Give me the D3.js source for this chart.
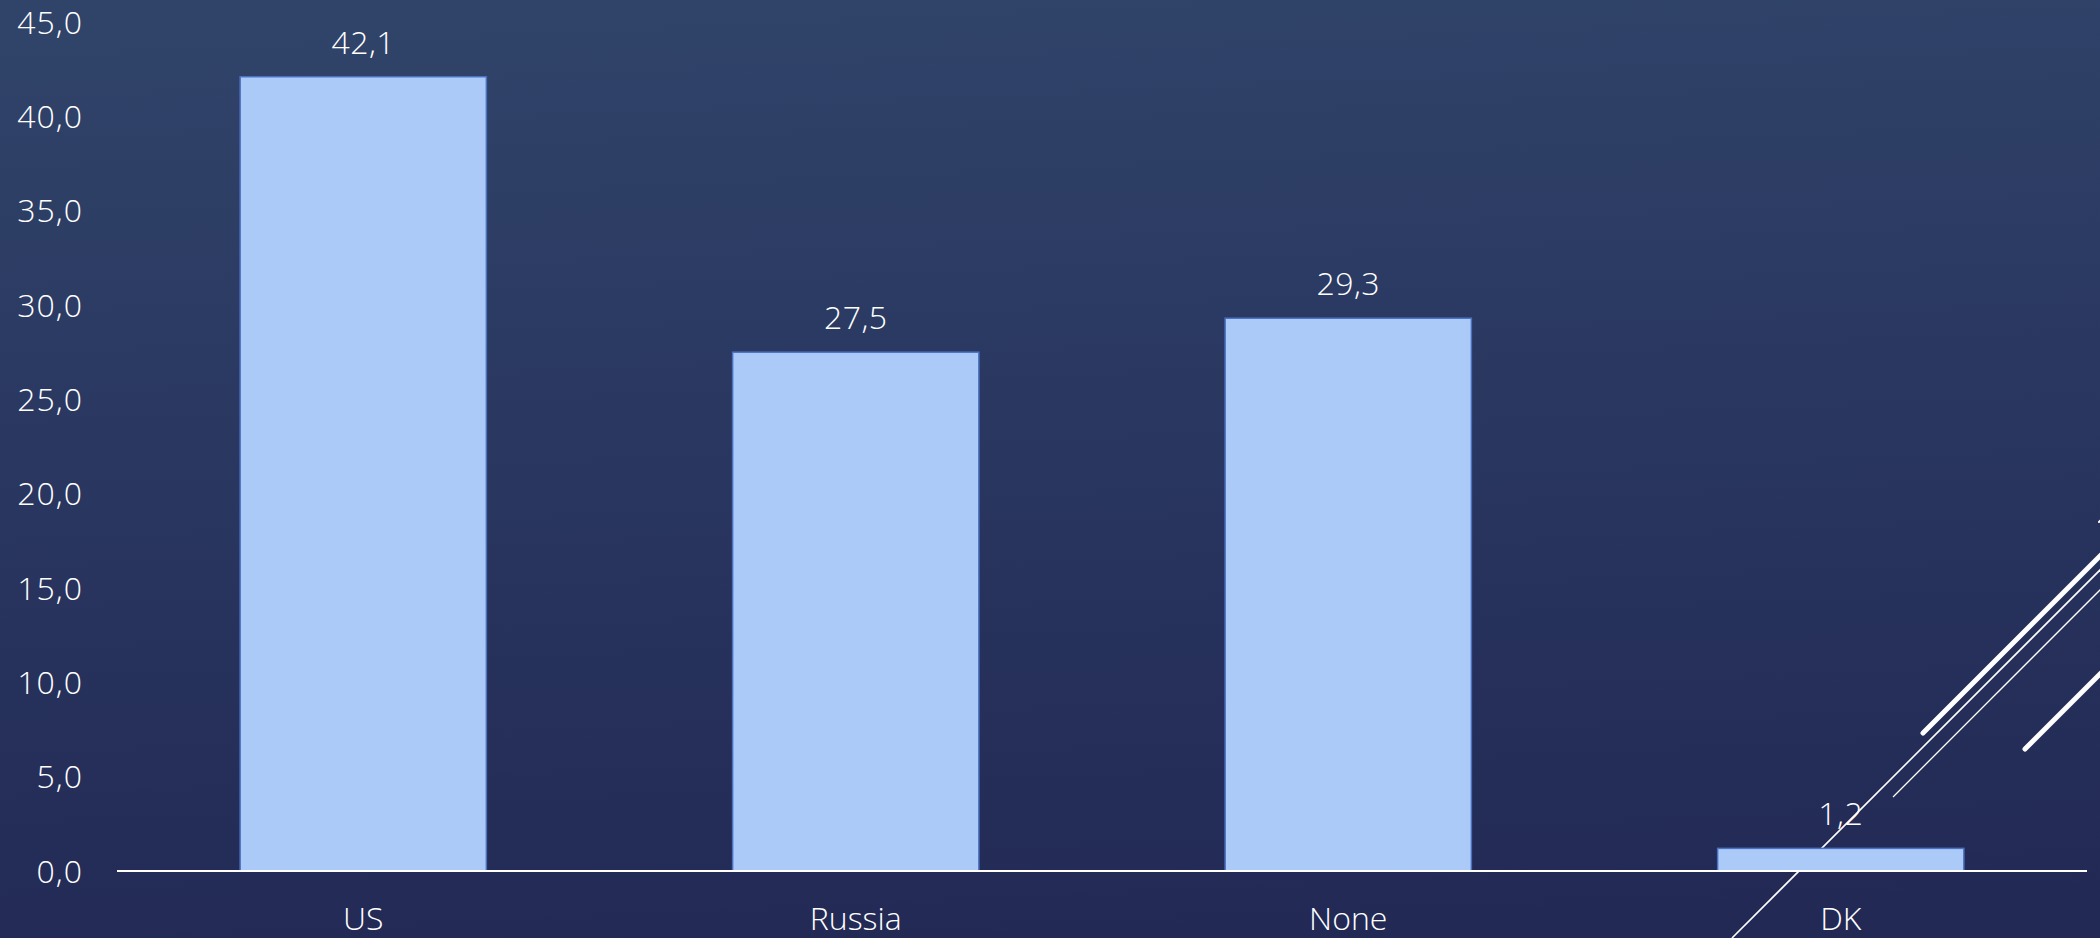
<!DOCTYPE html>
<html>
<head>
<meta charset="utf-8">
<script src="https://cdn.jsdelivr.net/npm/d3@7"></script>
<style>
html,body{margin:0;padding:0;background:#27325e;}
svg{display:block;}
text{font-family:"Open Sans","Segoe UI",sans-serif;font-weight:300;fill:#ffffff;}
</style>
</head>
<body>
<svg id="chart" width="2100" height="938"></svg>
<script>
const categories = ["US", "Russia", "None", "DK"];
const values = [42.1, 27.5, 29.3, 1.2];
const yTicks = [0, 5, 10, 15, 20, 25, 30, 35, 40, 45];

const W = 2100, H = 938;
const svg = d3.select("#chart");

// background gradient
const defs = svg.append("defs");
const grad = defs.append("linearGradient").attr("id","bg")
  .attr("x1","0.45").attr("y1","0").attr("x2","0.55").attr("y2","1");
grad.append("stop").attr("offset","0%").attr("stop-color","#304369");
grad.append("stop").attr("offset","100%").attr("stop-color","#222955");
svg.append("rect").attr("width",W).attr("height",H).attr("fill","url(#bg)");

const fmt = v => d3.format(".1f")(v).replace(".", ",");

const x = d3.scaleBand().domain(categories).range([117, 2087])
  .paddingInner(0.5).paddingOuter(0.25);
const y = d3.scaleLinear().domain([0, 45]).range([871, 22]);

// decorative lines (theme accents), drawn beneath bars
const deco = svg.append("g").attr("stroke","#ffffff").attr("fill","none");
deco.append("line").attr("x1",1732).attr("y1",938).attr("x2",2110).attr("y2",560).attr("stroke-width",1.6);
deco.append("line").attr("x1",1893).attr("y1",797).attr("x2",2110).attr("y2",580).attr("stroke-width",1.3);
deco.append("line").attr("x1",1923).attr("y1",733).attr("x2",2110).attr("y2",546).attr("stroke-width",5).attr("stroke-linecap","round");
deco.append("line").attr("x1",2025).attr("y1",749).attr("x2",2110).attr("y2",664).attr("stroke-width",5).attr("stroke-linecap","round");
deco.append("line").attr("x1",2099).attr("y1",522).attr("x2",2130).attr("y2",491).attr("stroke-width",2).attr("stroke-linecap","round");

// y axis labels
const yAxis = d3.axisLeft(y).tickValues(yTicks).tickFormat(fmt).tickSize(0).tickPadding(0);
const gy = svg.append("g").attr("transform","translate(83,0)").call(yAxis);
gy.select(".domain").remove();
gy.selectAll("text").attr("font-size",32).attr("fill","#ffffff")
  .style("font-family",'"Open Sans","Segoe UI",sans-serif').style("font-weight",300)
  .style("letter-spacing","1px")
  .attr("dy","0.35em");

// bars
svg.append("g").selectAll("rect").data(values).join("rect")
  .attr("x",(d,i)=>x(categories[i]))
  .attr("y",d=>y(d))
  .attr("width",x.bandwidth())
  .attr("height",d=>y(0)-y(d))
  .attr("fill","#abcaf7")
  .attr("stroke","#4a70c2")
  .attr("stroke-width",1.5);

// x axis
const xAxis = d3.axisBottom(x).tickSize(0).tickPadding(0);
const gx = svg.append("g").attr("transform",`translate(0,${y(0)})`).call(xAxis);
gx.select(".domain").attr("stroke","#ffffff").attr("stroke-width",2).attr("d","M117,0H2087");
gx.selectAll("text").attr("font-size",32).attr("fill","#ffffff")
  .style("font-family",'"Open Sans","Segoe UI",sans-serif').style("font-weight",300)
  .attr("y",59).attr("dy",0);

// value labels
svg.append("g").selectAll("text").data(values).join("text")
  .attr("x",(d,i)=>x(categories[i]) + x.bandwidth()/2)
  .attr("y",d=>y(d) - 23)
  .attr("text-anchor","middle")
  .attr("font-size",32)
  .style("letter-spacing","0.5px")
  .text(d=>fmt(d));
</script>
</body>
</html>
